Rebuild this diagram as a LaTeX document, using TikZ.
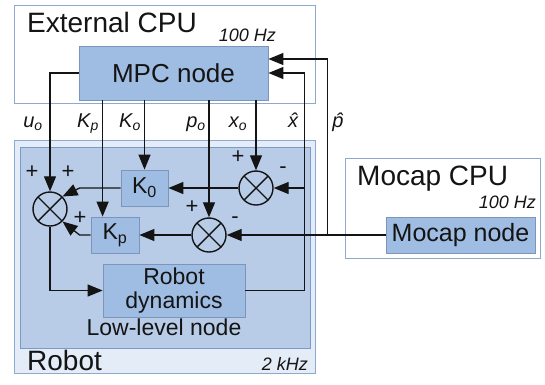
\documentclass[tikz,border=0pt]{standalone}
\usepackage{fontspec}
\setmainfont{Liberation Sans}
\usetikzlibrary{arrows.meta,positioning}

\definecolor{frameline}{HTML}{8EA9CF}
\definecolor{robotfill}{HTML}{E3ECF7}
\definecolor{lowfill}{HTML}{B8CCE8}
\definecolor{lowline}{HTML}{7A9BC8}
\definecolor{boxfill}{HTML}{9FBCE2}
\definecolor{boxline}{HTML}{7C95BA}
\definecolor{ink}{HTML}{141414}

\tikzstyle{frame} = [draw=frameline, line width=1pt, inner sep=0pt]
\tikzstyle{block} = [draw=boxline, fill=boxfill, line width=0.8pt, inner sep=0pt, text=ink, font=\fontsize{23}{24}\selectfont]
\tikzstyle{sum} = [circle, draw=ink, line width=1.4pt, minimum size=34pt, inner sep=0pt,
  path picture={\draw[ink, line width=1.4pt] (path picture bounding box.north west) -- (path picture bounding box.south east)
  (path picture bounding box.north east) -- (path picture bounding box.south west);}]
\tikzstyle{wire} = [draw=ink, line width=1.3pt]
\tikzstyle{sig} = [wire, -{Triangle[length=15pt,width=12pt]}]
\tikzstyle{title} = [text=ink, inner sep=0pt, font=\fontsize{28}{30}\selectfont]
\tikzstyle{rate} = [text=ink, inner sep=0pt, font=\fontsize{18}{20}\selectfont\itshape]
\tikzstyle{lab} = [text=ink, inner sep=0pt, font=\fontsize{20}{22}\selectfont\itshape]
\tikzstyle{sign} = [text=ink, inner sep=0pt, font=\fontsize{22}{24}\selectfont]

\begin{document}
\begin{tikzpicture}[x=1pt, y=-1pt]
\useasboundingbox (0,0) rectangle (545,384);
%frames
\node[frame, anchor=north west, minimum width=301pt, minimum height=98pt] (ext) at (14,5) {};
\node[frame, fill=robotfill, anchor=north west, minimum width=301pt, minimum height=233pt] (robot) at (14,140) {};
\node[frame, draw=lowline, fill=lowfill, anchor=north west, minimum width=290pt, minimum height=201pt] (low) at (20,147) {};
\node[frame, anchor=north west, minimum width=195pt, minimum height=100pt] (mocap) at (345,158) {};
%titles
\node[title, anchor=base west] (exttitle) at (27,32) {External CPU};
\node[rate, anchor=base east] (extrate) at (276,41) {100 Hz};
\node[title, anchor=base west] (robottitle) at (27,370) {Robot};
\node[rate, anchor=base east] (robotrate) at (308,370) {2 kHz};
\node[title, anchor=base west] (mocaptitle) at (357,185) {Mocap CPU};
\node[rate, anchor=base east] (mocaprate) at (536,208) {100 Hz};
\node[text=ink, inner sep=0pt, font=\fontsize{23}{24}\selectfont, anchor=base] (lowtitle) at (164,335) {Low-level node};
%blocks
\node[block, font=\fontsize{26}{28}\selectfont, minimum width=189pt, minimum height=54pt] (mpc) at (173.5,73) {MPC node};
\node[block, minimum width=47pt, minimum height=36pt] (k0) at (144.5,188) {K\textsubscript{0}};
\node[block, minimum width=48pt, minimum height=36pt] (kp) at (115,235) {K\textsubscript{p}};
\node[block, align=center, minimum width=142pt, minimum height=53pt] (dyn) at (174,290.5) {Robot\\dynamics};
\node[block, font=\fontsize{25}{27}\selectfont, minimum width=149pt, minimum height=36pt] (mocapnode) at (460.5,235) {Mocap node};
%sums
\node[sum] (suml) at (50,209) {};
\node[sum] (sumt) at (256,188) {};
\node[sum] (summ) at (209,235) {};
%bends
\coordinate (kptap) at ([xshift=12pt]kp.north west);
\coordinate (k0bend) at ([xshift=-41pt]k0.west);
\coordinate (kpbend) at ([xshift=-11pt]kp.west);
\coordinate (xbend) at ([xshift=59pt]dyn.east);
\coordinate (pbend) at ([xshift=-58pt]mocapnode.west);
%begin references
\draw[sig] (mpc.west) -| (suml.north);
\draw[sig] (mpc.south -| kptap) -- (kptap);
\draw[sig] (mpc.south -| k0.north) -- (k0.north);
\draw[sig] (mpc.south -| summ.north) -- (summ.north);
\draw[sig] (mpc.south -| sumt.north) -- (sumt.north);
%end references
%begin inner loop
\draw[sig] (sumt.west) -- (k0.east);
\draw[sig] (summ.west) -- (kp.east);
\draw[sig] (k0.west) -- (k0bend) -- (suml.north east);
\draw[sig] (kp.west) -- (kpbend) -- (suml.south east);
\draw[sig] (suml.south) |- (dyn.west);
%end inner loop
%begin feedback
\draw[sig] (dyn.east) -- (xbend) |- (mpc.east);
\draw[sig] (xbend |- sumt.east) -- (sumt.east);
\draw[sig] (mocapnode.west) -- (summ.east);
\draw[sig] (pbend) |- ([yshift=14pt]mpc.east);
%end feedback
%labels
\node[lab, anchor=base] (luo) at (33,127) {u\textsubscript{o}};
\node[lab, anchor=base] (lkp) at (88,127) {K\textsubscript{p}};
\node[lab, anchor=base] (lko) at (130,127) {K\textsubscript{o}};
\node[lab, anchor=base] (lpo) at (196,127) {p\textsubscript{o}};
\node[lab, anchor=base] (lxo) at (238,127) {x\textsubscript{o}};
\node[lab, anchor=base] (lxh) at (293,127) {\^{x}};
\node[lab, anchor=base] (lph) at (338,127) {\^{p}};
%signs
\node[sign] (s1) at (32,172) {+};
\node[sign] (s2) at (68,172) {+};
\node[sign] (s3) at (80,218) {+};
\node[sign] (s4) at (238,157) {+};
\node[sign] (s5) at (283,170) {-};
\node[sign] (s6) at (192,207) {+};
\node[sign] (s7) at (235,220) {-};
\end{tikzpicture}
\end{document}
